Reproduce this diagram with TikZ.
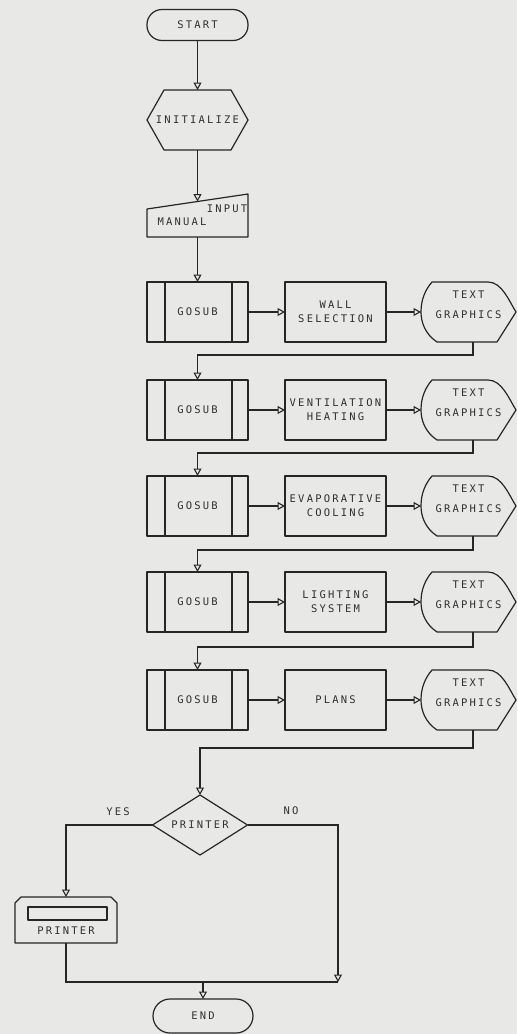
\documentclass[tikz,border=0pt]{standalone}
\usepackage{fontspec}
\newfontfamily\plotfont[LetterSpace=21]{DejaVu Sans Mono}
\usetikzlibrary{arrows.meta,calc}
\definecolor{ink}{HTML}{262626}
\definecolor{txt}{HTML}{303030}
\definecolor{paper}{HTML}{E8E8E6}
\tikzset{
  base/.style={inner sep=0pt, outer sep=0pt, align=center, text=txt,
    font=\plotfont\fontsize{10.5}{14}\selectfont},
  frame/.style={draw=ink, line width=1.2pt, line join=round},
  hole/.style={base, minimum width=101pt, minimum height=60pt},
  terminal/.style={base, frame, minimum width=101pt, minimum height=31pt, rounded corners=15pt},
  procbox/.style={base, frame, minimum width=101pt, minimum height=60pt},
  dispbox/.style={base, minimum width=95pt, minimum height=60pt},
  caption/.style={base},
  wire/.style={draw=ink, line width=1.2pt},
  arr/.style={wire, -{Triangle[open, width=8pt, length=7.5pt, line width=1.1pt]}},
}
% outline of a display symbol built around an (invisible) node
\newcommand{\displayshape}[1]{%
  \draw[frame] ($(#1.north west)+(11,0)$) -- ($(#1.north east)+(-28,0)$)
    .. controls ($(#1.north east)+(-14,0)$) and ($(#1.east)+(-7,-11)$) .. (#1.east)
    -- ($(#1.south east)+(-19,0)$) -- ($(#1.south west)+(16,0)$)
    .. controls ($(#1.south west)+(4,-8)$) and ($(#1.west)+(0,10)$) .. (#1.west)
    .. controls ($(#1.west)+(0,-12)$) and ($(#1.north west)+(4,8)$) .. cycle;}
% predefined-process outline: box plus two inner bars
\newcommand{\subshape}[1]{%
  \draw[frame] (#1.north west) rectangle (#1.south east);
  \draw[frame] ($(#1.north west)+(18,0)$) -- ($(#1.south west)+(18,0)$);
  \draw[frame] ($(#1.north east)+(-16,0)$) -- ($(#1.south east)+(-16,0)$);}
\begin{document}
\begin{tikzpicture}[x=1pt, y=-1pt]
\useasboundingbox (0,0) rectangle (517,1034);
\fill[paper] (0,0) rectangle (517,1034);

% ---- start and set-up
\node[terminal] (start) at (197.5,25) {START};

\node[hole] (init) at (197.5,120) {INITIALIZE};
\draw[frame] ($(init.north west)+(17,0)$) -- ($(init.north east)+(-17,0)$) -- (init.east)
  -- ($(init.south east)+(-17,0)$) -- ($(init.south west)+(17,0)$) -- (init.west) -- cycle;

\node[base, minimum width=101pt, minimum height=43pt] (man) at (197.5,215.5) {};
\draw[frame] (man.south west) -- ($(man.north west)+(0,15)$) -- (man.north east)
  -- (man.south east) -- cycle;
\node[caption] (manlbl) at (182,222) {MANUAL};
\node[caption] (inlbl) at (227,209) {INPUT};

% ---- subroutine rows
\node[hole] (g1) at (197.5,312) {GOSUB};
\node[hole] (g2) at (197.5,410) {GOSUB};
\node[hole] (g3) at (197.5,506) {GOSUB};
\node[hole] (g4) at (197.5,602) {GOSUB};
\node[hole] (g5) at (197.5,700) {GOSUB};
\subshape{g1}\subshape{g2}\subshape{g3}\subshape{g4}\subshape{g5}

\node[procbox] (p1) at (335.5,312) {WALL\\SELECTION};
\node[procbox] (p2) at (335.5,410) {VENTILATION\\HEATING};
\node[procbox] (p3) at (335.5,506) {EVAPORATIVE\\COOLING};
\node[procbox] (p4) at (335.5,602) {LIGHTING\\SYSTEM};
\node[procbox] (p5) at (335.5,700) {PLANS};

\node[dispbox] (d1) at (468.5,312) {};
\node[dispbox] (d2) at (468.5,410) {};
\node[dispbox] (d3) at (468.5,506) {};
\node[dispbox] (d4) at (468.5,602) {};
\node[dispbox] (d5) at (468.5,700) {};
\displayshape{d1}\displayshape{d2}\displayshape{d3}\displayshape{d4}\displayshape{d5}
\foreach \d in {d1,d2,d3,d4,d5}{
  \node[caption, font=\plotfont\fontsize{10.5}{19.5}\selectfont] (\d t) at ([yshift=7.5pt]\d.center) {TEXT\\GRAPHICS};
}

% ---- decision and output
\node[hole, minimum width=95pt, minimum height=60pt] (dec) at (200,825) {PRINTER};
\draw[frame] (dec.north) -- (dec.east) -- (dec.south) -- (dec.west) -- cycle;
\node[caption] (yes) at (118,812) {YES};
\node[caption] (no) at (291,811) {NO};

\node[base, minimum width=102pt, minimum height=46pt] (prn) at (66,920) {};
\draw[frame] (prn.south west) -- ($(prn.north west)+(0,6)$) -- ($(prn.north west)+(6,0)$)
  -- ($(prn.north east)+(-6,0)$) -- ($(prn.north east)+(0,6)$) -- (prn.south east) -- cycle;
\draw[frame] ($(prn.north west)+(13,10)$) rectangle ($(prn.north east)+(-10,23)$);
\node[caption] (prnlbl) at ([yshift=-11pt]prn.center) {PRINTER};

\node[terminal, minimum width=100pt, minimum height=34pt, rounded corners=17pt] (end) at (203,1016) {END};
\coordinate (merge) at (338,982);

% ---- connectors
\draw[arr] (start.south) -- (init.north);
\draw[arr] (init.south) -- ([yshift=-7.5pt]man.north);
\draw[arr] (man.south) -- (g1.north);
\foreach \i in {1,...,5}{
  \draw[arr] (g\i.east) -- (p\i.west);
  \draw[arr] (p\i.east) -- (d\i.west);
}
\draw[arr] ([xshift=4.5pt]d1.south) -- ++(0,13) -| (g2.north);
\draw[arr] ([xshift=4.5pt]d2.south) -- ++(0,13) -| (g3.north);
\draw[arr] ([xshift=4.5pt]d3.south) -- ++(0,14) -| (g4.north);
\draw[arr] ([xshift=4.5pt]d4.south) -- ++(0,15) -| (g5.north);
\draw[arr] ([xshift=4.5pt]d5.south) -- ++(0,18) -| (dec.north);
\draw[arr] (dec.west) -| (prn.north);
\draw[arr] (dec.east) -| (merge);
\draw[wire] (prn.south) |- (merge);
\draw[arr] (end.north |- merge) -- (end.north);
\end{tikzpicture}
\end{document}
